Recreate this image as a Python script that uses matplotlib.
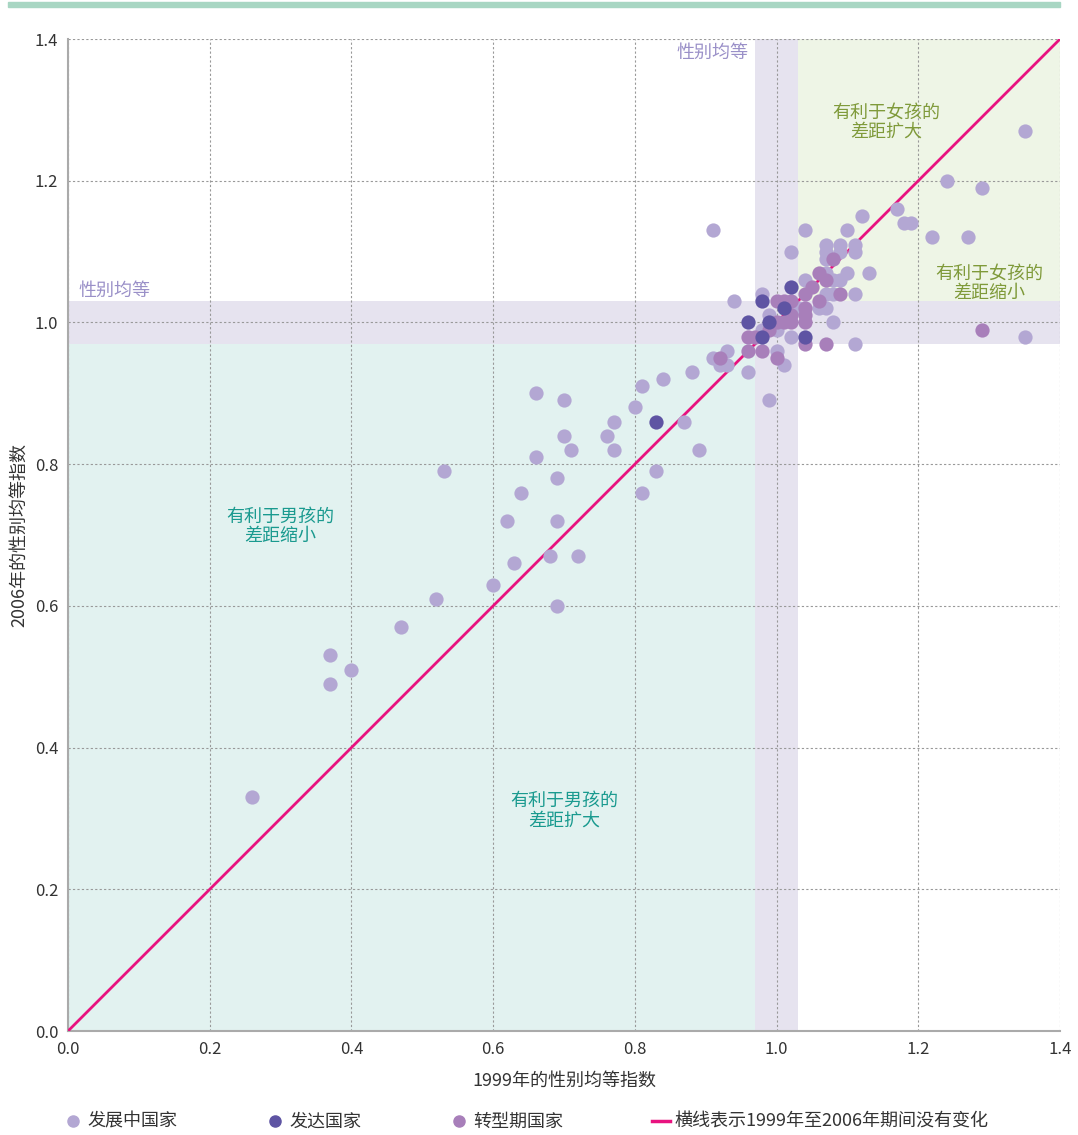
import numpy as np
import matplotlib.pyplot as plt
from matplotlib.patches import Rectangle
from matplotlib.lines import Line2D

plt.rcParams['font.family'] = ['Liberation Sans Narrow', 'Noto Sans CJK SC', 'DejaVu Sans']

# developing countries (x = 1999 GPI, y = 2006 GPI)
dev_x = [0.26, 0.37, 0.37, 0.40, 0.47, 0.52, 0.53, 0.60, 0.62, 0.63, 0.64, 0.66, 0.66, 0.68,
         0.69, 0.69, 0.69, 0.70, 0.70, 0.71, 0.72, 0.76, 0.77, 0.77, 0.80, 0.81, 0.81, 0.83,
         0.84, 0.87, 0.88, 0.89, 0.91, 0.91, 0.92, 0.93, 0.93, 0.94, 0.96, 0.99, 0.98, 0.98,
         0.99, 1.00, 1.00, 1.01, 1.02, 1.03, 1.02, 1.04, 1.04, 1.06, 1.07, 1.07, 1.07, 1.07,
         1.07, 1.07, 1.08, 1.08, 1.08, 1.09, 1.09, 1.09, 1.10, 1.10, 1.11, 1.11, 1.11, 1.11,
         1.12, 1.13, 1.17, 1.18, 1.19, 1.22, 1.24, 1.27, 1.29, 1.35, 1.35]
dev_y = [0.33, 0.53, 0.49, 0.51, 0.57, 0.61, 0.79, 0.63, 0.72, 0.66, 0.76, 0.90, 0.81, 0.67,
         0.78, 0.72, 0.60, 0.89, 0.84, 0.82, 0.67, 0.84, 0.86, 0.82, 0.88, 0.91, 0.76, 0.79,
         0.92, 0.86, 0.93, 0.82, 1.13, 0.95, 0.94, 0.94, 0.96, 1.03, 0.93, 0.89, 1.04, 0.99,
         1.01, 0.99, 0.96, 0.94, 0.98, 1.02, 1.10, 1.13, 1.06, 1.02, 1.02, 1.11, 1.10, 1.09,
         1.04, 1.07, 1.06, 1.04, 1.00, 1.11, 1.10, 1.06, 1.13, 1.07, 1.11, 1.10, 1.04, 0.97,
         1.15, 1.07, 1.16, 1.14, 1.14, 1.12, 1.20, 1.12, 1.19, 1.27, 0.98]

# transition countries
tr_x = [0.92, 0.96, 0.97, 0.96, 0.98, 0.99, 1.00, 1.00, 1.01, 1.02, 1.00, 1.01, 1.02, 1.02,
        1.04, 1.04, 1.04, 1.04, 1.04, 1.05, 1.06, 1.06, 1.07, 1.08, 1.09, 1.07, 1.29]
tr_y = [0.95, 0.98, 0.98, 0.96, 0.96, 0.99, 0.95, 1.03, 1.03, 1.03, 1.00, 1.00, 1.00, 1.01,
        1.02, 1.01, 1.00, 0.97, 1.04, 1.05, 1.03, 1.07, 1.06, 1.09, 1.04, 0.97, 0.99]

# developed countries
dvd_x = [0.83, 0.96, 0.98, 0.98, 0.99, 1.01, 1.02, 1.04]
dvd_y = [0.86, 1.00, 1.03, 0.98, 1.00, 1.02, 1.05, 0.98]

c_dev = '#b3a7d3'
c_dvd = '#5e54a3'
c_tr = '#a87fba'
c_line = '#e8127f'

fig = plt.figure(figsize=(10.78, 11.35), dpi=100)
ax = fig.add_axes([0.0631, 0.0916, 0.9202, 0.874])

# top decorative bar
fig.patches.append(Rectangle((0.007, 0.9935), 0.976, 0.0045, transform=fig.transFigure,
                             color='#a8d6c3', zorder=0))

# shaded regions
ax.add_patch(Rectangle((0, 0), 0.97, 0.97, color='#e2f2f0', zorder=0, lw=0))
ax.add_patch(Rectangle((1.03, 1.03), 0.37, 0.37, color='#eef5e6', zorder=0, lw=0))
ax.add_patch(Rectangle((0.97, 0), 0.06, 1.4, color='#e6e3ef', zorder=0, lw=0))
ax.add_patch(Rectangle((0, 0.97), 1.4, 0.06, color='#e6e3ef', zorder=0, lw=0))

ax.plot([0, 1.4], [0, 1.4], color=c_line, lw=2.0, zorder=3)

ax.scatter(dev_x, dev_y, s=105, color=c_dev, lw=0, zorder=4)
ax.scatter(tr_x, tr_y, s=105, color=c_tr, lw=0, zorder=5)
ax.scatter(dvd_x, dvd_y, s=105, color=c_dvd, lw=0, zorder=6)

ax.set_xlim(0, 1.4)
ax.set_ylim(0, 1.4)
ticks = np.arange(0, 1.41, 0.2)
ax.set_xticks(ticks)
ax.set_yticks(ticks)
ax.set_xticklabels(['%.1f' % t for t in ticks])
ax.set_yticklabels(['%.1f' % t for t in ticks])
ax.tick_params(length=0, labelsize=12, colors='#333333', pad=7)
ax.grid(True, linestyle=(0, (2, 2)), color='#999999', lw=0.8, zorder=1)
ax.set_axisbelow(True)
for s in ['top', 'right']:
    ax.spines[s].set_visible(False)
for s in ['left', 'bottom']:
    ax.spines[s].set_color('#aaaaaa')
    ax.spines[s].set_linewidth(1.5)

ax.set_xlabel('1999年的性别均等指数', fontsize=13, color='#333333', labelpad=10)
ax.set_ylabel('2006年的性别均等指数', fontsize=13, color='#333333', labelpad=5)

ax.text(0.96, 1.38, '性别均等', color='#9a90c8', fontsize=13, ha='right', va='center')
ax.text(0.065, 1.045, '性别均等', color='#9a90c8', fontsize=13, ha='center', va='center')
ax.text(1.155, 1.283, '有利于女孩的\n差距扩大', color='#7f9a3a', fontsize=13, ha='center',
        va='center', linespacing=1.1)
ax.text(1.3, 1.055, '有利于女孩的\n差距缩小', color='#7f9a3a', fontsize=13, ha='center',
        va='center', linespacing=1.1)
ax.text(0.3, 0.712, '有利于男孩的\n差距缩小', color='#1a9a8f', fontsize=13, ha='center',
        va='center', linespacing=1.1)
ax.text(0.7, 0.311, '有利于男孩的\n差距扩大', color='#1a9a8f', fontsize=13, ha='center',
        va='center', linespacing=1.1)

handles = [
    Line2D([], [], marker='o', ls='', color=c_dev, markersize=8),
    Line2D([], [], marker='o', ls='', color=c_dvd, markersize=8),
    Line2D([], [], marker='o', ls='', color=c_tr, markersize=8),
    Line2D([], [], color=c_line, lw=2.5),
]
labels = ['发展中国家', '发达国家', '转型期国家', '横线表示1999年至2006年期间没有变化']
fig.legend(handles, labels, loc='center left', bbox_to_anchor=(0.044, 0.0115), ncol=4,
           frameon=False, fontsize=13, handlelength=1.0, handletextpad=0.3,
           columnspacing=4.9, labelcolor='#333333')

fig.savefig('out.png', dpi=100)
